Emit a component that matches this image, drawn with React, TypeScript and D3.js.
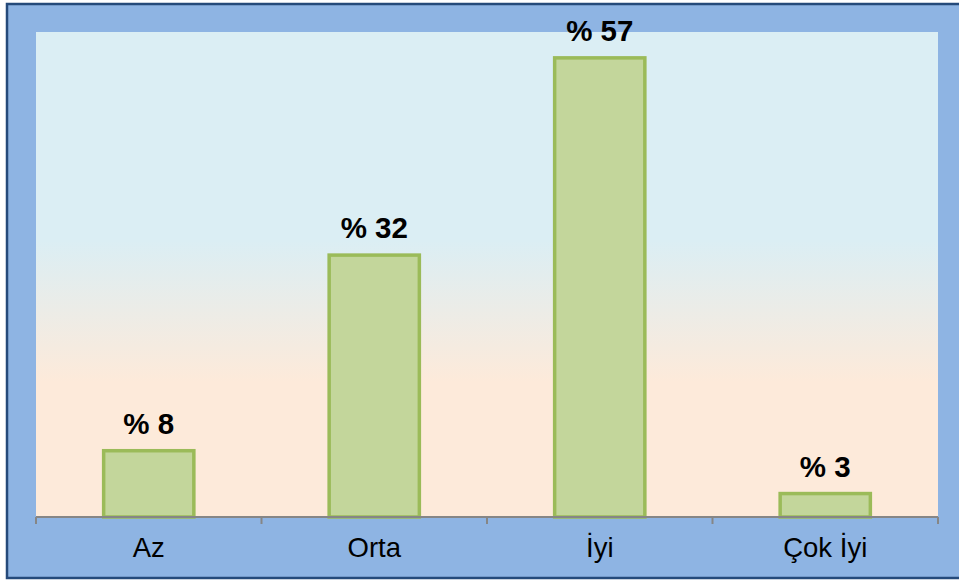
import * as d3 from 'd3';

const categories = ['Az', 'Orta', 'İyi', 'Çok İyi'];
const values = [8.2, 32.4, 56.8, 2.9];
const valueLabels = ['% 8', '% 32', '% 57', '% 3'];

export default function App() {
  const width = 959;
  const height = 583;
  const plot = { left: 36, top: 32, right: 938, bottom: 517 };

  const x = d3
    .scaleBand<string>()
    .domain(categories)
    .range([plot.left, plot.right])
    .paddingInner(0.6)
    .paddingOuter(0.3);

  const y = d3.scaleLinear().domain([0, 60]).range([plot.bottom, plot.top]);

  const step = (plot.right - plot.left) / categories.length;
  const ticks = d3.range(categories.length + 1).map((i) => plot.left + i * step);

  return (
    <svg
      width={width}
      height={height}
      style={{ position: 'absolute', left: 0, top: 0 }}
      fontFamily='"Liberation Sans", Arial, sans-serif'
    >
      <defs>
        <linearGradient id='bg' x1='0' y1='0' x2='0' y2='1'>
          <stop offset='0' stopColor='#DBEEF4' />
          <stop offset='0.43' stopColor='#DBEEF4' />
          <stop offset='0.72' stopColor='#FDEADA' />
          <stop offset='1' stopColor='#FDEADA' />
        </linearGradient>
      </defs>

      <rect x={7} y={4} width={width + 10} height={574} fill='#8EB4E3' stroke='#254A7A' strokeWidth={2.5} />

      <rect
        x={plot.left}
        y={plot.top}
        width={plot.right - plot.left}
        height={plot.bottom - plot.top}
        fill='url(#bg)'
      />

      {categories.map((c, i) => (
        <g key={c}>
          <rect
            x={x(c)}
            y={y(values[i])}
            width={x.bandwidth()}
            height={plot.bottom - y(values[i])}
            fill='#C3D69B'
            stroke='#9BBB59'
            strokeWidth={3.5}
          />
          <text
            x={(x(c) ?? 0) + x.bandwidth() / 2}
            y={y(values[i]) - 17}
            textAnchor='middle'
            fontSize={29.5}
            fontWeight='bold'
            fill='#000'
          >
            {valueLabels[i]}
          </text>
          <text
            x={(x(c) ?? 0) + x.bandwidth() / 2}
            y={557}
            textAnchor='middle'
            fontSize={27.5}
            fill='#000'
          >
            {c}
          </text>
        </g>
      ))}

      <line x1={plot.left} x2={plot.right} y1={plot.bottom} y2={plot.bottom} stroke='#868686' strokeWidth={2} />
      {ticks.map((t) => (
        <line key={t} x1={t} x2={t} y1={plot.bottom} y2={plot.bottom + 7} stroke='#868686' strokeWidth={2} />
      ))}
    </svg>
  );
}
